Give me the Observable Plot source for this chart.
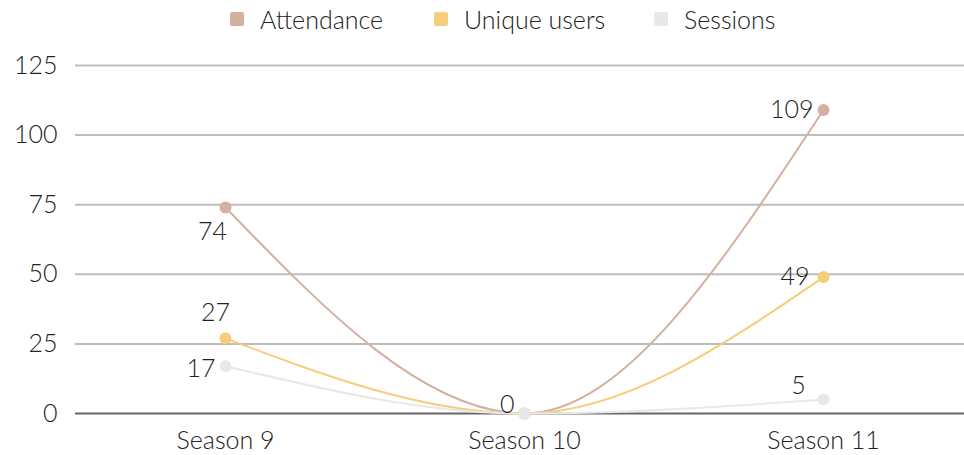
<!DOCTYPE html>
<html>
<head>
<meta charset="utf-8">
<script src="https://cdn.jsdelivr.net/npm/d3@7"></script>
<script src="https://cdn.jsdelivr.net/npm/@observablehq/plot@0.6"></script>
<style>
  html, body { margin: 0; padding: 0; background: #fff; }
  body { width: 964px; height: 455px; overflow: hidden; font-family: Lato, "Open Sans", sans-serif; font-weight: 300; }
  #legend { height: 40px; position: relative; }
  .item { position: absolute; top: 4px; display: flex; align-items: center; font-size: 25px; color: #222; font-weight: 300; }
  .sw { width: 14px; height: 14px; border-radius: 2px; margin-right: 16px; }
  svg { display: block; }
</style>
</head>
<body>
<div id="legend"></div>
<div id="chart"></div>
<script>
// ---- data ----
const seasons = ["Season 9", "Season 10", "Season 11"];
const seriesNames = ["Attendance", "Unique users", "Sessions"];
const attendance = [74, 0, 109];
const uniqueUsers = [27, 0, 49];
const sessions = [17, 0, 5];
const yTicks = [0, 25, 50, 75, 100, 125];

const colors = ["#d4b0a1", "#f5cd7b", "#e8e8e8"];
// label placement per series / point: [dx, dy, anchor]
const labelPlacement = [
  [[-13, 25, "middle"], [-10, -9, "end"], [-10, 0, "end"]],
  [[-10, -25, "middle"], [-10, -9, "end"], [-14, 0, "end"]],
  [[-10, 3, "end"], [-10, -9, "end"], [-25, -14, "middle"]]
];

const valuesBySeries = [attendance, uniqueUsers, sessions];
const rows = [];
seriesNames.forEach((s, i) => {
  seasons.forEach((season, j) => {
    rows.push({series: s, season, value: valuesBySeries[i][j], si: i, pj: j,
      dx: labelPlacement[i][j][0], dy: labelPlacement[i][j][1], anchor: labelPlacement[i][j][2]});
  });
});

// legend
const legend = document.getElementById("legend");
const legendX = [230, 434, 654];
seriesNames.forEach((s, i) => {
  const d = document.createElement("div");
  d.className = "item";
  d.style.left = legendX[i] + "px";
  d.innerHTML = `<div class="sw" style="background:${colors[i]}"></div><span>${s}</span>`;
  legend.appendChild(d);
});

// only one "0" label shown at Season 10
const labelRows = rows.filter(r => !(r.pj === 1 && r.si !== 0));
const groups = d3.groups(labelRows, r => `${r.dx},${r.dy},${r.anchor}`);
const labelMarks = groups.map(([, g]) =>
  Plot.text(g, {x: "season", y: "value", text: d => String(d.value),
    dx: g[0].dx, dy: g[0].dy, textAnchor: g[0].anchor, fill: "#222", fontSize: 25, fontWeight: 300}));

const chart = Plot.plot({
  width: 964,
  height: 415,
  marginLeft: 75,
  marginRight: 0,
  marginTop: 25,
  marginBottom: 42,
  style: {fontFamily: "Lato, 'Open Sans', sans-serif", fontWeight: 300, fontSize: "25px", color: "#222", background: "#fff"},
  x: {type: "point", domain: seasons, range: [225, 823], padding: 0, label: null},
  y: {domain: [0, 125], label: null},
  color: {domain: seriesNames, range: colors},
  marks: [
    Plot.ruleY(yTicks.filter(t => t > 0), {stroke: "#bdbdbd", strokeWidth: 2}),
    Plot.ruleY([0], {stroke: "#666", strokeWidth: 2}),
    Plot.axisY({ticks: yTicks, tickSize: 0, tickPadding: 18, fontSize: 25, fill: "#222", tickFormat: d => String(d)}),
    Plot.axisX({tickSize: 0, tickPadding: 18, fontSize: 25, fill: "#222"}),
    Plot.line(rows, {x: "season", y: "value", z: "series", stroke: "series", strokeWidth: 2, curve: "monotone-x"}),
    Plot.dot(rows, {x: "season", y: "value", fill: "series", r: 6}),
    ...labelMarks
  ]
});
document.getElementById("chart").appendChild(chart);
</script>
</body>
</html>
